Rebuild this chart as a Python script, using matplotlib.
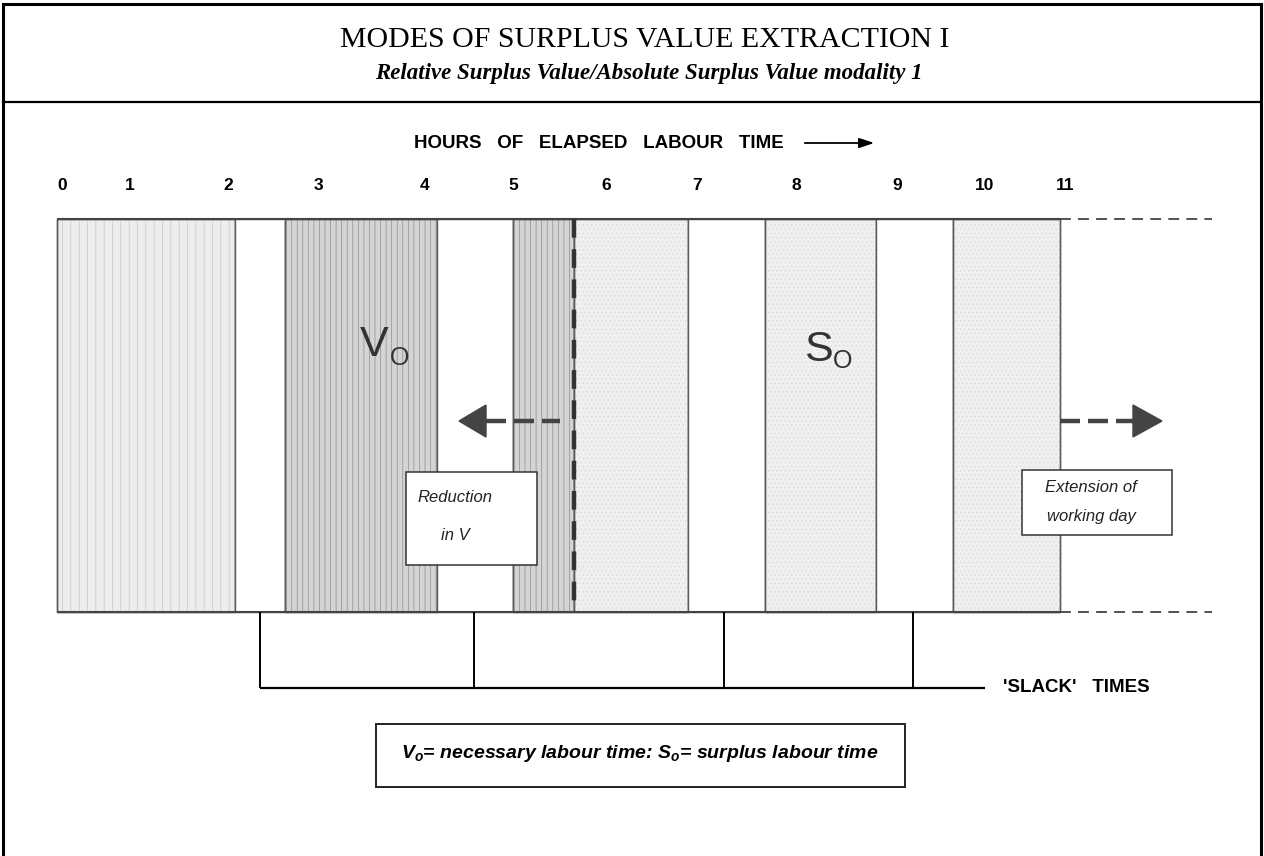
import matplotlib
matplotlib.use("Agg")
import matplotlib.pyplot as plt

plt.rcParams['mathtext.fontset'] = 'custom'
plt.rcParams['mathtext.it'] = 'Liberation Sans:bold:italic'
plt.rcParams['mathtext.rm'] = 'Liberation Sans:bold'
plt.rcParams['hatch.linewidth'] = 0.5

# diagram is laid out in a pixel-like coordinate frame (x right, y down)
title = "MODES OF SURPLUS VALUE EXTRACTION I"
subtitle = "Relative Surplus Value/Absolute Surplus Value modality 1"

hour_labels = ["0", "1", "2", "3", "4", "5", "6", "7", "8", "9", "10", "11"]
hour_pos = [62, 130, 228, 318, 425, 513, 606, 697, 796, 897, 985, 1065]

# blocks of the working day: left edges, right edges, shading
seg_left = [57, 235, 285, 437, 513, 574, 688, 765, 876, 953]
seg_right = [235, 285, 437, 513, 574, 688, 765, 876, 953, 1060]
seg_shade = ["light_v", "white", "dark_v", "white", "dark_v",
             "light_s", "white", "light_s", "white", "light_s"]
bar_top, bar_bottom = 219, 612
ext_end = 1212          # dashed extension of the working day
v_cut = 574             # dashed line, end of necessary labour

slack_x = [260, 474, 724, 913]
slack_y = 688
slack_end = 985

shade_fill = {"light_v": "#ededed", "dark_v": "#d4d4d4", "light_s": "#f0f0f0", "white": "white"}
shade_hatch = {"light_v": ("||", "#c6c6c6"), "dark_v": ("|||", "#8f8f8f"),
               "light_s": ("....", "#dadada"), "white": (None, None)}

fig = plt.figure(figsize=(12.64, 8.56), dpi=100)
ax = fig.add_axes([0, 0, 1, 1])
ax.set_xlim(0, 1264)
ax.set_ylim(856, 0)
ax.axis('off')

# outer frame + title separator
ax.plot([3, 3, 1261, 1261], [856, 4, 4, 856], color='black', lw=2.2, solid_joinstyle='miter')
ax.plot([3, 1261], [102, 102], color='black', lw=1.6)

ax.text(645, 40, title, ha='center', va='center', fontsize=21.5, family='Liberation Serif')
ax.text(649, 73, subtitle, ha='center', va='center', fontsize=16.5, family='Liberation Serif',
        style='italic', weight='bold')

# axis heading with arrow
ax.text(599, 143, "HOURS   OF   ELAPSED   LABOUR   TIME", ha='center', va='center',
        fontsize=13.5, weight='bold', family='Liberation Sans')
ax.annotate('', xy=(877, 143), xytext=(802, 143),
            arrowprops=dict(arrowstyle='-|>,head_length=0.9,head_width=0.3', color='black', lw=1.3))

for lab, x in zip(hour_labels, hour_pos):
    ax.text(x, 185, lab, ha='center', va='center', fontsize=12.5, weight='bold', family='Liberation Sans')

# blocks
widths = [r - l for l, r in zip(seg_left, seg_right)]
for l, w, s in zip(seg_left, widths, seg_shade):
    ax.bar(l, bar_bottom - bar_top, width=w, bottom=bar_top, align='edge',
           color=shade_fill[s], edgecolor='#5a5a5a', linewidth=1.0)
    h, hc = shade_hatch[s]
    if h:
        ax.bar(l, bar_bottom - bar_top, width=w, bottom=bar_top, align='edge',
               color='none', edgecolor=hc, hatch=h, linewidth=0)
        ax.bar(l, bar_bottom - bar_top, width=w, bottom=bar_top, align='edge',
               color='none', edgecolor='#5a5a5a', linewidth=1.0)

ax.hlines([bar_top, bar_bottom], seg_left[0], seg_right[-1], color='#444444', lw=1.5)
ax.hlines([bar_top, bar_bottom], seg_right[-1], ext_end, color='#444444', lw=1.3,
          linestyles=(0, (6, 4)))

# dashed cut line
ax.vlines(v_cut, bar_top, bar_bottom, color='#333333', lw=3.2, linestyles=(0, (4.2, 2.6)))

# V_O and S_O labels
ax.text(360, 345, "V", ha='left', va='center', fontsize=31, color='#333333', family='Liberation Sans')
ax.text(390, 358, "O", ha='left', va='center', fontsize=18, color='#333333', family='Liberation Sans')
ax.text(804, 350, "S", ha='left', va='center', fontsize=31, color='#333333', family='Liberation Sans')
ax.text(833, 361, "O", ha='left', va='center', fontsize=18, color='#333333', family='Liberation Sans')

# reduction arrow (left) and extension arrow (right)
arrow_y = 421
ax.hlines(arrow_y, 486, 560, color='#444444', lw=3.2, linestyles=(0, (4.5, 1.8)))
ax.fill([459, 486, 486], [arrow_y, arrow_y - 16, arrow_y + 16], color='#444444')
ax.hlines(arrow_y, 1060, 1133, color='#444444', lw=3.2, linestyles=(0, (4.5, 1.8)))
ax.fill([1162, 1133, 1133], [arrow_y, arrow_y - 16, arrow_y + 16], color='#444444')

# annotation boxes
ax.add_patch(plt.Rectangle((406, 472), 131, 93, fill=True, facecolor='white', edgecolor='#333333', lw=1.1))
ax.text(455, 497, "Reduction", ha='center', va='center', fontsize=12, style='italic',
        family='Liberation Sans', color='#222222')
ax.text(455, 536, "in V", ha='center', va='center', fontsize=12, style='italic',
        family='Liberation Sans', color='#222222')

ax.add_patch(plt.Rectangle((1022, 470), 150, 65, fill=True, facecolor='white', edgecolor='#333333', lw=1.1))
ax.text(1091, 487, "Extension of", ha='center', va='center', fontsize=12, style='italic',
        family='Liberation Sans', color='#222222')
ax.text(1091, 517, "working day", ha='center', va='center', fontsize=12, style='italic',
        family='Liberation Sans', color='#222222')

# slack-time bracket
ax.vlines(slack_x, bar_bottom, slack_y, color='black', lw=1.4)
ax.hlines(slack_y, slack_x[0], slack_end, color='black', lw=1.6)
ax.text(1003, slack_y, "'SLACK'   TIMES", ha='left', va='center', fontsize=13.5, weight='bold',
        family='Liberation Sans')

# key box
ax.add_patch(plt.Rectangle((376, 724), 529, 63, fill=False, edgecolor='#222222', lw=1.4))
ax.text(640, 754, r"$V_o$= necessary labour time: $S_o$= surplus labour time", ha='center', va='center',
        fontsize=14, weight='bold', style='italic', family='Liberation Sans')

fig.savefig("out.png", dpi=100)
